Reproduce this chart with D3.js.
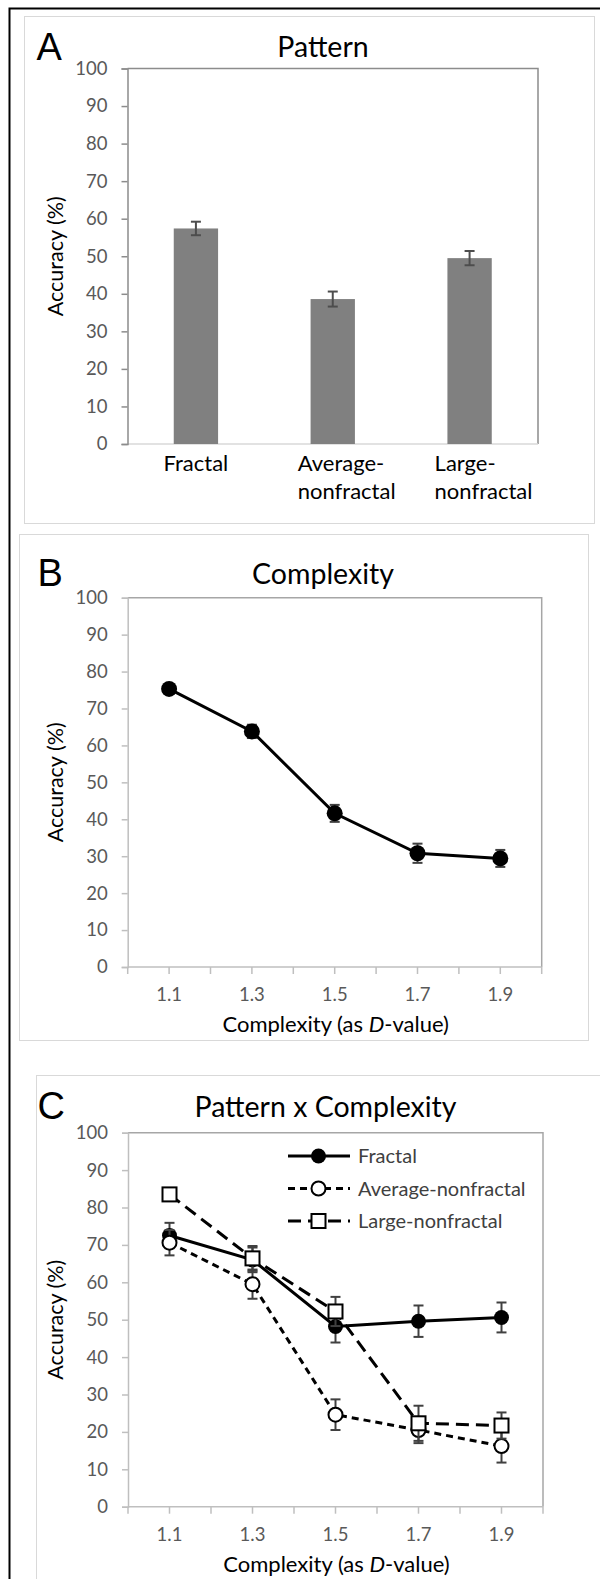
<!DOCTYPE html>
<html>
<head>
<meta charset="utf-8">
<script src="https://cdn.jsdelivr.net/npm/d3@7"></script>
<style>
  html, body { margin: 0; padding: 0; background: #fff; }
  svg { display: block; }
  text { font-family: Lato, "Open Sans", sans-serif; }
</style>
</head>
<body>
<div id="chart"></div>
<script>
// ---- data ----
const patternCategories = ["Fractal", "Average-nonfractal", "Large-nonfractal"];
const patternMeans = [57.4, 38.6, 49.5];
const patternErr = [1.8, 2.0, 1.9];

const dValues = [1.1, 1.3, 1.5, 1.7, 1.9];
const dTickLabels = ["1.1", "1.3", "1.5", "1.7", "1.9"];
const complexityMeans = [75.3, 63.8, 41.6, 30.8, 29.4];
const complexityErr = [1.0, 1.8, 2.3, 2.6, 2.3];

const fractalMeans = [72.5, 66.0, 48.2, 49.6, 50.6];
const fractalErr = [3.4, 3.3, 4.3, 4.2, 4.0];
const averageMeans = [70.6, 59.5, 24.6, 20.5, 16.2];
const averageErr = [3.4, 3.9, 4.1, 3.5, 4.4];
const largeMeans = [83.5, 66.4, 52.2, 22.3, 21.7];
const largeErr = [1.0, 3.3, 3.9, 4.7, 3.5];

const yTicks = [0, 10, 20, 30, 40, 50, 60, 70, 80, 90, 100];

// ---- canvas ----
const W = 600, H = 1579;
const svg = d3.select("#chart").append("svg").attr("width", W).attr("height", H);

// outer frame (left and top edges)
svg.append("path").attr("d", "M601,8.5 H9.5 V1580")
  .attr("fill", "none").attr("stroke", "#000").attr("stroke-width", 2);

// panel backgrounds
const panels = [
  { x: 24.5, y: 16.5, x2: 594.5, y2: 523.5 },
  { x: 19.5, y: 534.5, x2: 588.5, y2: 1040.5 },
  { x: 36.5, y: 1075.5, x2: 612, y2: 1600 }
];
panels.forEach(p => svg.append("rect")
  .attr("x", p.x).attr("y", p.y).attr("width", p.x2 - p.x).attr("height", p.y2 - p.y)
  .attr("fill", "#fff").attr("stroke", "#d9d9d9").attr("stroke-width", 1));

function panelLetter(t, x, y) {
  svg.append("text").attr("x", x).attr("y", y).text(t)
    .attr("font-family", "'Liberation Sans', Arial, sans-serif")
    .style("font-family", "'Liberation Sans', Arial, sans-serif")
    .attr("font-size", 38).attr("fill", "#000");
}
function panelTitle(t, cx, y) {
  svg.append("text").attr("x", cx).attr("y", y).text(t)
    .attr("text-anchor", "middle").attr("font-size", 28.5).attr("fill", "#000");
}

// y axis with frame, ticks and title
function yAxisBlock(y, x0, x1, leftColor, frameColor, bottomColor) {
  const g = svg.append("g");
  // top + right frame
  g.append("path")
    .attr("d", `M${x0},${y(100)} H${x1} V${y(0)}`)
    .attr("fill", "none").attr("stroke", frameColor).attr("stroke-width", 1.5);
  // bottom axis
  g.append("line").attr("x1", x0).attr("x2", x1).attr("y1", y(0)).attr("y2", y(0))
    .attr("stroke", bottomColor).attr("stroke-width", 1.5);
  // left axis
  const ax = g.append("g").attr("transform", `translate(${x0},0)`)
    .call(d3.axisLeft(y).tickValues(yTicks).tickSize(6).tickPadding(14).tickFormat(d3.format("d")));
  ax.select(".domain").attr("stroke", leftColor).attr("stroke-width", 1.5);
  ax.selectAll(".tick line").attr("stroke", leftColor).attr("stroke-width", 1.5);
  ax.selectAll(".tick text").attr("font-size", 18.5).attr("fill", "#595959")
    .style("font-family", "Lato, sans-serif");
  // title
  const cy = (y(0) + y(100)) / 2;
  g.append("text").attr("transform", `translate(63,${cy}) rotate(-90)`)
    .attr("text-anchor", "middle").attr("font-size", 21.5).attr("fill", "#000")
    .text("Accuracy (%)");
  return g;
}

// x axis for the D-value panels
function dAxisBlock(x, y, color) {
  const g = svg.append("g").attr("transform", `translate(0,${y(0)})`);
  const ticks = d3.range(10, 21).map(v => v / 10);
  g.selectAll("line.t").data(ticks).join("line")
    .attr("x1", d => x(d)).attr("x2", d => x(d)).attr("y1", 0).attr("y2", 7)
    .attr("stroke", color).attr("stroke-width", 1.5);
  g.selectAll("text.l").data(dValues).join("text")
    .attr("x", d => x(d)).attr("y", 28).attr("dy", "0.35em")
    .attr("text-anchor", "middle").attr("font-size", 18.5).attr("fill", "#595959")
    .text((d, i) => dTickLabels[i]);
  const t = g.append("text").attr("x", (x(1.0) + x(2.0)) / 2 + 1).attr("y", 65)
    .attr("text-anchor", "middle").attr("font-size", 22).attr("fill", "#000");
  t.append("tspan").text("Complexity (as ");
  t.append("tspan").attr("font-style", "italic").text("D");
  t.append("tspan").text("-value)");
}

function errorBars(g, xs, means, errs, y, color, cap, width) {
  const eg = g.append("g");
  means.forEach((m, i) => {
    const cx = xs[i], top = y(m + errs[i]), bot = y(m - errs[i]);
    eg.append("line").attr("x1", cx).attr("x2", cx).attr("y1", top).attr("y2", bot)
      .attr("stroke", color).attr("stroke-width", width);
    [top, bot].forEach(yy => eg.append("line")
      .attr("x1", cx - cap / 2).attr("x2", cx + cap / 2).attr("y1", yy).attr("y2", yy)
      .attr("stroke", color).attr("stroke-width", width));
  });
}

// ================= Panel A : Pattern =================
{
  const x0 = 127.5, x1 = 538;
  const y = d3.scaleLinear().domain([0, 100]).range([444, 68.5]);
  const x = d3.scaleBand().domain(patternCategories).range([x0, x1])
    .paddingInner(0.676).paddingOuter(0.338);

  panelLetter("A", 36.5, 60);
  panelTitle("Pattern", 323, 57);
  yAxisBlock(y, x0, x1, "#8c8c8c", "#8c8c8c", "#d9d9d9");

  const g = svg.append("g");
  g.selectAll("rect.bar").data(patternMeans).join("rect")
    .attr("x", (d, i) => x(patternCategories[i]))
    .attr("y", d => y(d))
    .attr("width", x.bandwidth())
    .attr("height", d => y(0) - y(d))
    .attr("fill", "#808080");
  const centers = patternCategories.map(c => x(c) + x.bandwidth() / 2);
  errorBars(g, centers, patternMeans, patternErr, y, "#4d4d4d", 10, 2);

  // category labels
  patternCategories.forEach((c, i) => {
    const parts = c.split("-");
    const cx = centers[i];
    if (parts.length === 1) {
      svg.append("text").attr("x", cx).attr("y", 471).attr("text-anchor", "middle")
        .attr("font-size", 22).attr("fill", "#000").text(c);
    } else {
      const t = svg.append("text").attr("font-size", 22).attr("fill", "#000");
      t.append("tspan").attr("x", cx - 35).attr("y", 471).text(parts[0] + "-");
      t.append("tspan").attr("x", cx - 35).attr("y", 499).text(parts[1]);
    }
  });
}

// ================= Panel B : Complexity =================
{
  const x0 = 127.7, x1 = 541.7;
  const y = d3.scaleLinear().domain([0, 100]).range([967, 597.7]);
  const x = d3.scaleLinear().domain([1.0, 2.0]).range([x0, x1]);

  panelLetter("B", 37.5, 586);
  panelTitle("Complexity", 323, 584);
  yAxisBlock(y, x0, x1, "#bfbfbf", "#a6a6a6", "#bfbfbf");
  dAxisBlock(x, y, "#bfbfbf");

  const g = svg.append("g");
  const xs = dValues.map(d => x(d));
  errorBars(g, xs, complexityMeans, complexityErr, y, "#404040", 10, 2);
  const line = d3.line().x((d, i) => x(dValues[i])).y(d => y(d));
  g.append("path").datum(complexityMeans).attr("d", line)
    .attr("fill", "none").attr("stroke", "#000").attr("stroke-width", 3);
  g.selectAll("circle").data(complexityMeans).join("circle")
    .attr("cx", (d, i) => x(dValues[i])).attr("cy", d => y(d)).attr("r", 8)
    .attr("fill", "#000");
}

// ================= Panel C : Pattern x Complexity =================
{
  const x0 = 128, x1 = 543;
  const y = d3.scaleLinear().domain([0, 100]).range([1506.7, 1132.7]);
  const x = d3.scaleLinear().domain([1.0, 2.0]).range([x0, x1]);

  panelLetter("C", 37.5, 1119);
  panelTitle("Pattern x Complexity", 325.5, 1117);
  yAxisBlock(y, x0, x1, "#bfbfbf", "#a6a6a6", "#bfbfbf");
  dAxisBlock(x, y, "#bfbfbf");

  const series = [
    { name: "Fractal", means: fractalMeans, errs: fractalErr, dash: null, marker: "filled" },
    { name: "Average-nonfractal", means: averageMeans, errs: averageErr, dash: "7,5", marker: "open" },
    { name: "Large-nonfractal", means: largeMeans, errs: largeErr, dash: "13,7", marker: "square" }
  ];
  const xs = dValues.map(d => x(d));
  const line = d3.line().x((d, i) => x(dValues[i])).y(d => y(d));

  function drawMarker(g, mx, my, kind) {
    if (kind === "filled") {
      g.append("circle").attr("cx", mx).attr("cy", my).attr("r", 7.5).attr("fill", "#000");
    } else if (kind === "open") {
      g.append("circle").attr("cx", mx).attr("cy", my).attr("r", 7)
        .attr("fill", "#fff").attr("stroke", "#000").attr("stroke-width", 2);
    } else {
      g.append("rect").attr("x", mx - 7).attr("y", my - 7).attr("width", 14).attr("height", 14)
        .attr("fill", "#fff").attr("stroke", "#000").attr("stroke-width", 2);
    }
  }

  series.forEach(s => {
    const g = svg.append("g");
    errorBars(g, xs, s.means, s.errs, y, "#404040", 10, 2);
    g.append("path").datum(s.means).attr("d", line)
      .attr("fill", "none").attr("stroke", "#000").attr("stroke-width", 3)
      .attr("stroke-dasharray", s.dash);
    s.means.forEach((m, i) => drawMarker(g, xs[i], y(m), s.marker));
  });

  // legend
  const leg = svg.append("g");
  const legY = [1156, 1188.5, 1221];
  series.forEach((s, i) => {
    const ly = legY[i];
    leg.append("line").attr("x1", 288).attr("x2", 350).attr("y1", ly).attr("y2", ly)
      .attr("stroke", "#000").attr("stroke-width", 3).attr("stroke-dasharray", s.dash);
    drawMarker(leg, 318.5, ly, s.marker);
    leg.append("text").attr("x", 358).attr("y", ly).attr("dy", "0.35em")
      .attr("font-size", 20).attr("fill", "#404040").text(s.name);
  });
}
</script>
</body>
</html>
